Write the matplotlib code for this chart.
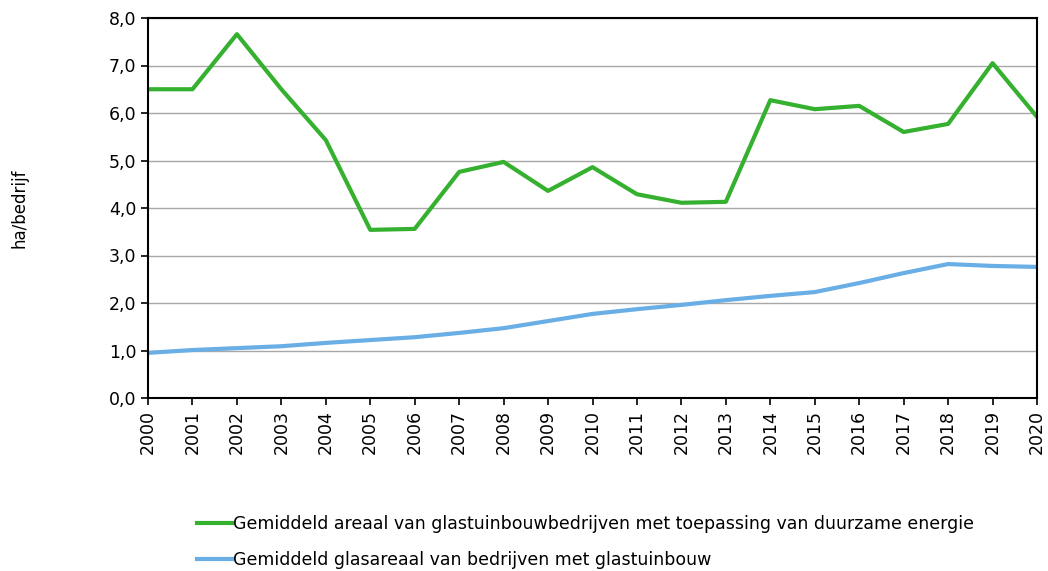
import matplotlib.pyplot as plt
from matplotlib.ticker import FuncFormatter

# data
years = list(range(2000, 2021))
duurzaam = [6.50, 6.50, 7.66, 6.50, 5.43, 3.54, 3.56, 4.76, 4.97, 4.36, 4.86,
            4.29, 4.11, 4.13, 6.27, 6.08, 6.15, 5.60, 5.77, 7.05, 5.92]
glas = [0.95, 1.01, 1.05, 1.09, 1.16, 1.22, 1.28, 1.37, 1.47, 1.62, 1.77,
        1.87, 1.96, 2.06, 2.15, 2.23, 2.42, 2.63, 2.82, 2.78, 2.76]
labels = ["Gemiddeld areaal van glastuinbouwbedrijven met toepassing van duurzame energie",
          "Gemiddeld glasareaal van bedrijven met glastuinbouw"]

fig = plt.figure(figsize=(10.48, 5.71), dpi=100)
ax = fig.add_axes([148/1048, 1-398/571, (1037-148)/1048, (398-18)/571])

ax.plot(years, duurzaam, color="#35b02f", lw=3.0, label=labels[0])
ax.plot(years, glas, color="#6aaee6", lw=3.0, label=labels[1])

ax.set_xlim(2000, 2020)
ax.set_ylim(0, 8)
ax.set_yticks(range(0, 9))
ax.yaxis.set_major_formatter(FuncFormatter(lambda v, p: f"{v:.1f}".replace(".", ",")))
ax.set_xticks(years)
ax.set_xticklabels([str(y) for y in years], rotation=90)
ax.tick_params(labelsize=12.5, length=5, width=1.2, color="black")
ax.grid(axis="y", color="#a8a8a8", lw=1.0)
ax.set_axisbelow(True)
for s in ax.spines.values():
    s.set_linewidth(1.5)
ax.set_ylabel("ha/bedrijf", fontsize=12, labelpad=58)

fig.legend(loc="upper left", bbox_to_anchor=(190/1048, 1-508/571), frameon=False,
           fontsize=12.5, handlelength=2.0, handletextpad=0.1, labelspacing=1.05,
           borderaxespad=0)

fig.savefig("out.png", dpi=100)
